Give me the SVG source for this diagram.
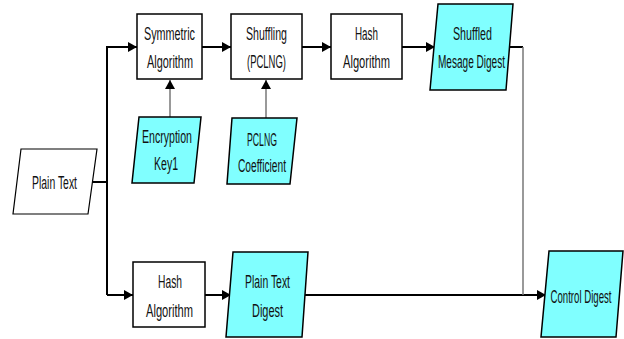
<svg xmlns="http://www.w3.org/2000/svg" width="624" height="339" viewBox="0 0 624 339">
<defs>
<marker id="ah" markerWidth="10" markerHeight="10" refX="9" refY="5" orient="auto" markerUnits="userSpaceOnUse">
<path d="M0,0 L9,5 L0,10 Z" fill="#000"/>
</marker>
<style>
.box{fill:#fff;stroke:#000;stroke-width:1.5}
.data{fill:#80ffff;stroke:#000;stroke-width:1.5}
.pt{fill:#fff;stroke:#000;stroke-width:1.2}
text{font-family:"Liberation Sans","Arial",sans-serif;font-size:17.5px;fill:#111;text-anchor:middle}
.c{fill:none;stroke:#000;stroke-width:2}
.g{fill:none;stroke:#777;stroke-width:1.5}
</style>
</defs>
<rect width="624" height="339" fill="#fff"/>
<g id="connectors">
<polyline class="c" points="92,182 107,182"/>
<polyline class="c" points="107,295 107,47 137,47" marker-end="url(#ah)"/>
<polyline class="c" points="107,295 133,295" marker-end="url(#ah)"/>
<polyline class="c" points="202,47 231,47" marker-end="url(#ah)"/>
<polyline class="c" points="302,47 331,47" marker-end="url(#ah)"/>
<polyline class="c" points="402,47 435,47" marker-end="url(#ah)"/>
<polyline class="g" points="170,117 170,80" marker-end="url(#ah)"/>
<polyline class="g" points="266,118 266,80" marker-end="url(#ah)"/>
<polyline class="c" points="205,295 231,295" marker-end="url(#ah)"/>
<polyline class="c" points="305,295 546,295" marker-end="url(#ah)"/>
<polyline class="c" points="509,47 523,47"/>
<polyline class="g" points="523,47 523,295"/>
</g>
<g id="plain-text">
<polygon class="pt" points="21,149 97,149 88,214 13,214"/>
<text x="54.5" y="189" textLength="45" lengthAdjust="spacingAndGlyphs">Plain Text</text>
</g>
<g id="symmetric-algorithm">
<rect class="box" x="137" y="14" width="65" height="65"/>
<text x="169.5" y="40" textLength="51" lengthAdjust="spacingAndGlyphs">Symmetric</text>
<text x="170" y="68" textLength="46" lengthAdjust="spacingAndGlyphs">Algorithm</text>
</g>
<g id="shuffling">
<rect class="box" x="231" y="14" width="71" height="65"/>
<text x="266.5" y="40" textLength="41" lengthAdjust="spacingAndGlyphs">Shuffling</text>
<text x="266.5" y="68" textLength="39" lengthAdjust="spacingAndGlyphs">(PCLNG)</text>
</g>
<g id="hash-algorithm-top">
<rect class="box" x="331" y="14" width="71" height="65"/>
<text x="366.5" y="40" textLength="23" lengthAdjust="spacingAndGlyphs">Hash</text>
<text x="366.5" y="68" textLength="47" lengthAdjust="spacingAndGlyphs">Algorithm</text>
</g>
<g id="shuffled-digest">
<polygon class="data" points="438,4 513,4 506,90 430,90"/>
<text x="472.5" y="40" textLength="39" lengthAdjust="spacingAndGlyphs">Shuffled</text>
<text x="471.5" y="68" textLength="67" lengthAdjust="spacingAndGlyphs">Mesage Digest</text>
</g>
<g id="encryption-key">
<polygon class="data" points="139,117 201,117 194,183 132,183"/>
<text x="167" y="143" textLength="50" lengthAdjust="spacingAndGlyphs">Encryption</text>
<text x="166" y="170" textLength="24" lengthAdjust="spacingAndGlyphs">Key1</text>
</g>
<g id="pclng-coefficient">
<polygon class="data" points="232,118 297,118 290,184 227,184"/>
<text x="262" y="146" textLength="30" lengthAdjust="spacingAndGlyphs">PCLNG</text>
<text x="262" y="172" textLength="48" lengthAdjust="spacingAndGlyphs">Coefficient</text>
</g>
<g id="hash-algorithm-bottom">
<rect class="box" x="133" y="262" width="72" height="65"/>
<text x="170" y="288" textLength="24" lengthAdjust="spacingAndGlyphs">Hash</text>
<text x="169.5" y="317" textLength="47" lengthAdjust="spacingAndGlyphs">Algorithm</text>
</g>
<g id="plain-text-digest">
<polygon class="data" points="233,252 308,252 302,337 226,337"/>
<text x="267.5" y="288" textLength="45" lengthAdjust="spacingAndGlyphs">Plain Text</text>
<text x="267.5" y="317" textLength="31" lengthAdjust="spacingAndGlyphs">Digest</text>
</g>
<g id="control-digest">
<polygon class="data" points="549,251 623,251 616,337 541,337"/>
<text transform="translate(581,303) scale(0.55,1)" x="0" y="0">Control Digest</text>
</g>
</svg>
